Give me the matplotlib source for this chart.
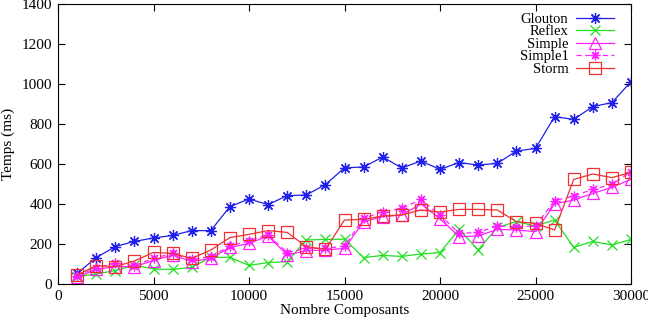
import numpy as np
import matplotlib.pyplot as plt

plt.rcParams['font.family'] = ['Liberation Serif', 'DejaVu Serif']

# nombre de composants
x = list(range(1000, 31000, 1000))

glouton = [53, 132, 187, 213, 230, 243, 267, 267, 387, 425, 397, 442, 445, 497, 581,
           585, 635, 580, 615, 573, 607, 595, 603, 665, 678, 837, 823, 887, 907, 1012]
reflex = [37, 50, 67, 95, 75, 73, 83, 133, 133, 93, 107, 112, 220, 223, 224,
          132, 143, 138, 150, 157, 273, 170, 283, 312, 290, 320, 183, 213, 195, 223]
simple = [33, 73, 87, 87, 117, 145, 112, 128, 183, 203, 240, 145, 167, 170, 178,
          312, 337, 345, 400, 327, 237, 240, 273, 270, 262, 400, 420, 453, 483, 523]
simple1 = [40, 82, 103, 92, 128, 153, 123, 137, 190, 217, 245, 157, 178, 178, 190,
           328, 362, 378, 423, 345, 253, 258, 290, 287, 290, 417, 440, 473, 498, 562]
storm = [45, 92, 87, 115, 158, 153, 128, 170, 232, 248, 267, 258, 187, 173, 320,
         323, 340, 345, 370, 360, 373, 373, 370, 312, 303, 270, 523, 550, 532, 558]

fig = plt.figure(figsize=(6.48, 3.17), dpi=100)
ax = fig.add_axes([58 / 648, 1 - 284 / 317, (631 - 58) / 648, (284 - 4) / 317])

star = (8, 2, 0)
ax.plot(x, glouton, color='#2020e8', lw=0.9, marker=star, ms=8, mew=0.9, label='Glouton')
ax.plot(x, reflex, color='#20e020', lw=0.9, marker='x', ms=7, mew=0.9, label='Reflex')
ax.plot(x, simple, color='#ff20ff', lw=0.9, marker='^', ms=8, mew=0.9, mfc='none', label='Simple')
ax.plot(x, simple1, color='#ff20ff', lw=0.9, ls=(0, (4, 3)), marker=star, ms=7, mew=0.9,
        label='Simple1')
ax.plot(x, storm, color='#f03030', lw=0.9, marker='s', ms=8, mew=0.9, mfc='none', label='Storm')

ax.set_xlim(0, 30000)
ax.set_ylim(0, 1400)
ax.set_xticks(range(0, 30001, 5000))
ax.set_yticks(range(0, 1401, 200))
ax.tick_params(direction='in', top=True, right=True, length=5, width=0.8, labelsize=11, pad=4)
for s in ax.spines.values():
    s.set_linewidth(0.8)

ax.set_xlabel('Nombre Composants', fontsize=11, labelpad=1)
ax.set_ylabel('Temps (ms)', fontsize=11, labelpad=5)

ax.legend(loc='upper right', frameon=False, markerfirst=False, fontsize=10.5,
          handlelength=2.6, labelspacing=-0.05, handletextpad=0.5,
          borderaxespad=0.2, bbox_to_anchor=(0.985, 1.0))

fig.savefig('out.png', dpi=100)
